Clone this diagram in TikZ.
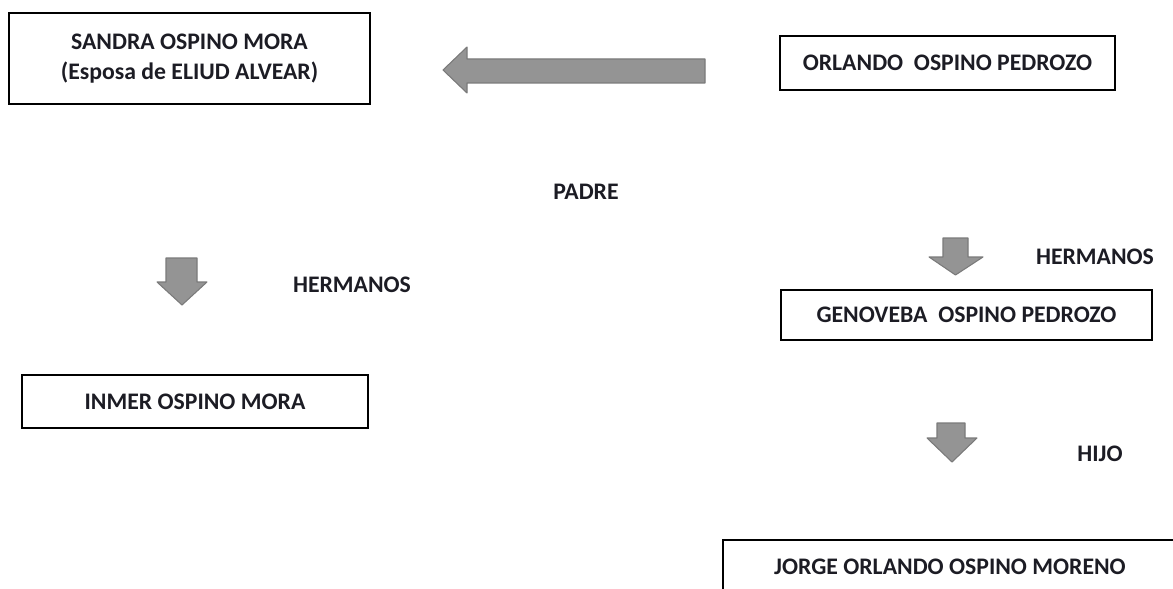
\documentclass[tikz,border=0pt]{standalone}
\usepackage{fontspec}
\setmainfont{Carlito}
\usepackage{tikz}
\usetikzlibrary{positioning}
\definecolor{arrowgray}{RGB}{148,148,148}
\definecolor{arrowedge}{RGB}{122,122,122}
\definecolor{inkdark}{RGB}{28,28,36}

\begin{document}
\begin{tikzpicture}[
    person/.style={draw=black, line width=1.6pt, text=inkdark, align=center,
      font=\fontsize{13.5pt}{17pt}\selectfont\bfseries, inner sep=0pt},
    relation/.style={text=inkdark, font=\fontsize{13.5pt}{17pt}\selectfont\bfseries},
    blockarrow/.style={fill=arrowgray, draw=arrowedge, line width=0.6pt, line join=round}
  ]
  \useasboundingbox (0,0) rectangle (23.46,-11.78);
  \clip (0,0) rectangle (23.46,-11.78);

  % LEFT SIDE
  \node[person,
    minimum width=7.22cm,
  minimum height=1.82cm] (SANDRA) at (3.79,-1.17)
  {
    SANDRA OSPINO MORA \\
    (Esposa de ELIUD ALVEAR)
  };
  \node[person,
    minimum width=6.92cm,
    minimum height=1.06cm,
    node distance=6.86cm,
    below of=SANDRA,
  xshift=0.11cm] (INMER)
  {INMER OSPINO MORA};

  % RIGHT SIDE
  \node[person,
    minimum width=6.70cm,
    minimum height=1.08cm,
    node distance=15.16cm,
    right of=SANDRA,
  yshift=-0.09cm] (ORLANDO)
  {ORLANDO\ \ OSPINO PEDROZO};
  \node[person,
    minimum width=7.42cm,
    minimum height=1.00cm,
    node distance=5.04cm,
    below of=ORLANDO,
  xshift=0.38cm] (GENOVEBA)
  {GENOVEBA\ \ OSPINO PEDROZO};
  \node[person,
    minimum width=9.08cm,
    minimum height=1.08cm,
    node distance=5.04cm,
    below of=GENOVEBA,
  xshift=-0.33cm] (JORGE)
  {JORGE ORLANDO OSPINO MORENO};

  % LABELS
  \node[relation] (PADRE) at (11.72,-3.84) {PADRE};
  \node[relation] (HERMANOS_L) at (7.04,-5.70) {HERMANOS};
  \node[relation] (HERMANOS_R) at (21.90,-5.14) {HERMANOS};
  \node[relation] (HIJO) at (22.00,-9.08) {HIJO};

  % ARROWS
  \filldraw[blockarrow] (8.86,-1.40) -- (9.34,-0.94) -- (9.34,-1.18) -- (14.10,-1.18)
    -- (14.10,-1.66) -- (9.34,-1.66) -- (9.34,-1.86) -- cycle;
  \filldraw[blockarrow] (3.32,-5.16) -- (3.94,-5.16) -- (3.94,-5.64) -- (4.14,-5.64)
    -- (3.64,-6.10) -- (3.14,-5.64) -- (3.32,-5.64) -- cycle;
  \filldraw[blockarrow] (18.86,-4.76) -- (19.36,-4.76) -- (19.36,-5.14) -- (19.66,-5.14)
    -- (19.11,-5.50) -- (18.58,-5.14) -- (18.86,-5.14) -- cycle;
  \filldraw[blockarrow] (18.74,-8.46) -- (19.30,-8.46) -- (19.30,-8.76) -- (19.54,-8.76)
    -- (19.04,-9.24) -- (18.54,-8.76) -- (18.74,-8.76) -- cycle;
\end{tikzpicture}
\end{document}
